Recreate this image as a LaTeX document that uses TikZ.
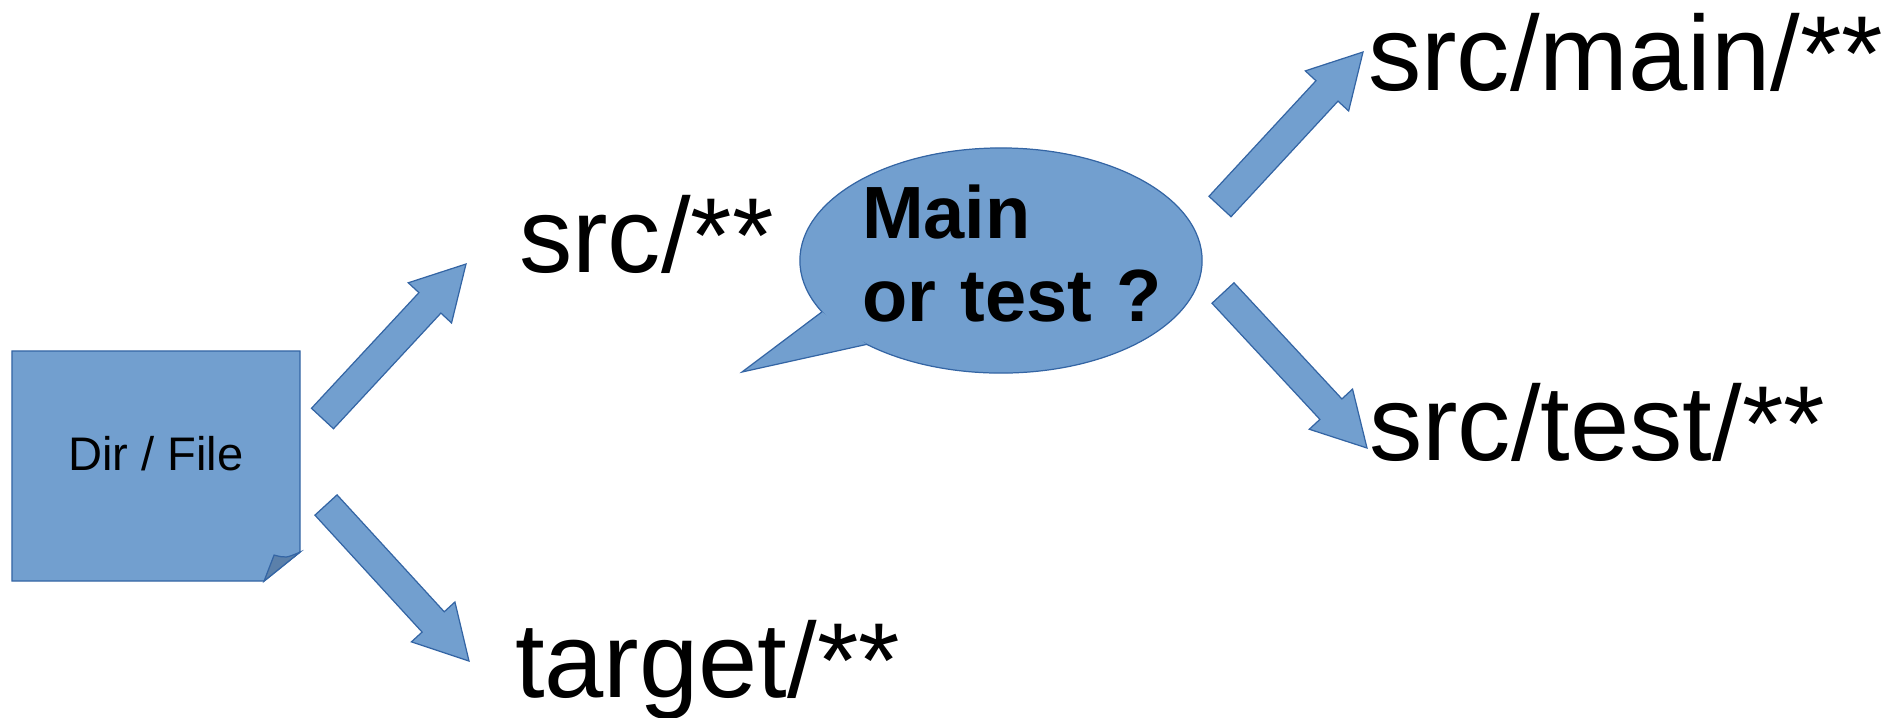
\documentclass[tikz,border=0pt]{standalone}
\usepackage{fontspec}
\setmainfont{Liberation Sans}
\usetikzlibrary{calc,shapes.geometric,backgrounds}
\definecolor{bfill}{HTML}{729FCF}
\definecolor{bline}{HTML}{3465A4}
\definecolor{bfold}{HTML}{5B80AA}
\newcommand\blockarrow[2]{%
  \draw[barrow] ($(#1)!0.15cm!90:(#2)$)
    -- ($(#2)!0.53cm!(#1)!0.15cm!90:(#2)$)
    -- ($(#2)!0.53cm!(#1)!0.295cm!90:(#2)$)
    -- (#2)
    -- ($(#2)!0.53cm!(#1)!0.295cm!-90:(#2)$)
    -- ($(#2)!0.53cm!(#1)!0.15cm!-90:(#2)$)
    -- ($(#1)!0.15cm!-90:(#2)$) -- cycle;}
\begin{document}
\begin{tikzpicture}[x=0.01cm,y=-0.01cm,
  barrow/.style={fill=bfill, draw=bline, line width=0.35pt, line join=miter},
  shapeline/.style={fill=bfill, draw=bline, line width=0.35pt},
  pathlbl/.style={anchor=base west, inner sep=0, outer sep=0, font=\fontsize{30.3pt}{36pt}\selectfont},
]
\useasboundingbox (0,0) rectangle (1899,717);

% Dir / File box
\node[inner sep=0, outer sep=0, minimum width=2.88cm, minimum height=2.30cm,
      text height=0.33cm, text depth=0.25cm,
      font=\fontsize{13.4pt}{16pt}\selectfont] (box) at (156,466) {Dir / File};
\begin{scope}[on background layer]
  \draw[shapeline] (box.north west) -- (box.north east)
    -- ($(box.south east)+(0,-29)$) -- ($(box.south east)+(-36,0)$)
    -- (box.south west) -- cycle;
  \filldraw[fill=bfold, draw=bline, line width=0.35pt]
    ($(box.south east)+(-36,0)$) -- ($(box.south east)+(-26,-26)$)
    .. controls ($(box.south east)+(-14,-23)$) .. ($(box.south east)+(0,-29)$) -- cycle;
\end{scope}

% labels
\node[pathlbl] (src) at (519,272) {src/**};
\node[pathlbl] (main) at (1368,90) {src/main/**};
\node[pathlbl] (test) at (1369,460) {src/test/**};
\node[pathlbl] (target) at (515,697) {target/**};

% speech bubble
\node[ellipse, shapeline, minimum width=4.02cm, minimum height=2.25cm,
      inner sep=0, outer sep=0] (bubble) at (1001,260.5) {};
\coordinate (tailtip) at (742,372);
\filldraw[fill=bfill, draw=bline, line width=0.35pt, line join=miter]
  (bubble.196.4) -- (tailtip) -- (bubble.212.2);
\node[anchor=base west, inner sep=0, outer sep=0, text width=3.8cm, align=left,
      font=\bfseries\fontsize{21.05pt}{23.6pt}\selectfont] (q) at (862,238) {Main\\or test ?};

% block arrows
\coordinate (a1s) at (322.5,418.5); \coordinate (a1e) at (466,264);
\coordinate (a2s) at (326,505);     \coordinate (a2e) at (469,661);
\coordinate (a3s) at (1220,206.5);  \coordinate (a3e) at (1363,52);
\coordinate (a4s) at (1223,293);    \coordinate (a4e) at (1367,448);
\blockarrow{a1s}{a1e}
\blockarrow{a2s}{a2e}
\blockarrow{a3s}{a3e}
\blockarrow{a4s}{a4e}
\end{tikzpicture}
\end{document}
